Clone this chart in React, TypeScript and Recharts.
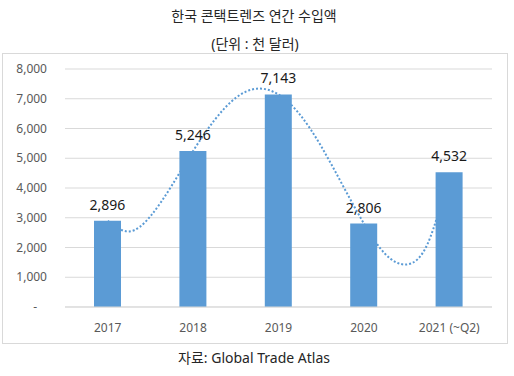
import React from 'react';
import {
  Bar,
  CartesianGrid,
  ComposedChart,
  LabelList,
  Line,
  XAxis,
  YAxis,
} from 'recharts';

const years = ['2017', '2018', '2019', '2020', '2021 (~Q2)'];
const imports = [2896, 5246, 7143, 2806, 4532];
const yTicks = [0, 1000, 2000, 3000, 4000, 5000, 6000, 7000, 8000];

// dotted trend curve, every quarter of a category step
const trendPos = [0, 0.25, 0.5, 0.75, 1, 1.25, 1.5, 1.75, 2, 2.25, 2.5, 2.75, 3, 3.25, 3.5, 3.75, 4];
const trendValues = [2896, 2540, 3050, 4080, 5246, 6280, 7030, 7340, 7143, 6470, 5400, 4100, 2806, 1780, 1430, 2150, 4532];

const barData = years.map((year, i) => ({ year, value: imports[i] }));
const trendData = trendPos.map((x, i) => ({ x, v: trendValues[i] }));

const font = "'Noto Sans', 'Noto Sans CJK KR', sans-serif";
const blue = '#5B9BD5';

const YTick = (props: any) => {
  const { x, y, payload } = props;
  const zero = payload.value === 0;
  return (
    <text
      x={zero ? x - 10 : x}
      y={y}
      dy={4}
      textAnchor="end"
      fill="#595959"
      fontSize={12}
      fontFamily={font}
    >
      {zero ? '-' : payload.value.toLocaleString('en-US')}
    </text>
  );
};

export default function App() {
  return (
    <div
      style={{
        position: 'absolute',
        left: 0,
        top: 0,
        width: 514,
        height: 376,
        background: '#fff',
        fontFamily: font,
      }}
    >
      <div
        style={{
          position: 'absolute',
          top: 5,
          width: 508,
          textAlign: 'center',
          fontSize: 14,
          color: '#262626',
        }}
      >
        한국 콘택트렌즈 연간 수입액
      </div>
      <div
        style={{
          position: 'absolute',
          top: 33,
          width: 510,
          textAlign: 'center',
          fontSize: 14,
          color: '#262626',
        }}
      >
        (단위 : 천 달러)
      </div>
      <div
        style={{
          position: 'absolute',
          left: 2,
          top: 53,
          width: 504,
          height: 289,
          border: '1px solid #d9d9d9',
        }}
      />
      <div style={{ position: 'absolute', left: 0, top: 53 }}>
        <ComposedChart
          width={507}
          height={290}
          data={barData}
          margin={{ top: 16, right: 15, bottom: 6, left: 0 }}
        >
          <CartesianGrid vertical={false} stroke="#d9d9d9" />
          <XAxis
            dataKey="year"
            axisLine={{ stroke: '#d9d9d9' }}
            tickLine={false}
            tickSize={0}
            tickMargin={16}
            height={30}
            tick={{ fill: '#595959', fontSize: 12, fontFamily: font }}
          />
          <XAxis
            xAxisId="trend"
            type="number"
            dataKey="x"
            domain={[-0.5, 4.5]}
            hide
          />
          <YAxis
            width={65}
            domain={[0, 8000]}
            ticks={yTicks}
            axisLine={false}
            tickLine={false}
            tickSize={0}
            tickMargin={18}
            tick={<YTick />}
          />
          <Line
            xAxisId="trend"
            data={trendData}
            dataKey="v"
            type="natural"
            stroke={blue}
            strokeWidth={2}
            strokeDasharray="2 2"
            dot={false}
            activeDot={false}
            isAnimationActive={false}
            zIndex={250}
          />
          <Bar dataKey="value" fill={blue} barSize={27} isAnimationActive={false}>
            <LabelList
              dataKey="value"
              position="top"
              offset={11}
              fill="#1a1a1a"
              fontSize={14}
              fontFamily={font}
              formatter={(v: any) => Number(v).toLocaleString('en-US')}
            />
          </Bar>
        </ComposedChart>
      </div>
      <div
        style={{
          position: 'absolute',
          top: 347,
          width: 508,
          textAlign: 'center',
          fontSize: 14,
          color: '#262626',
        }}
      >
        자료: Global Trade Atlas
      </div>
    </div>
  );
}
